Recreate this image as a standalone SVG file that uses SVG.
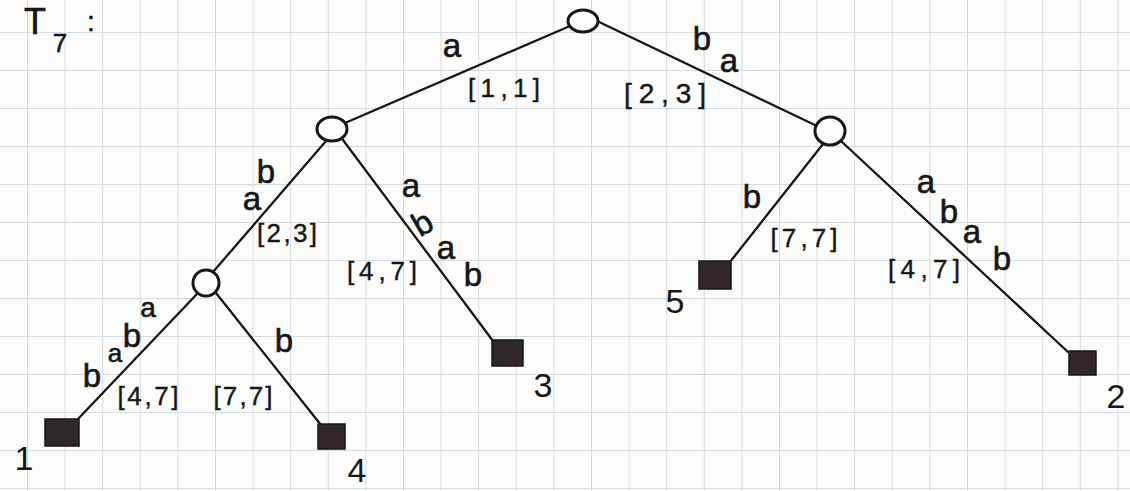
<svg xmlns="http://www.w3.org/2000/svg" width="1130" height="491" viewBox="0 0 1130 491">
  <defs>
    <pattern id="grid" patternUnits="userSpaceOnUse" x="27" y="32" width="37.6" height="38">
      <path d="M0.5 0 V38 M0 0.5 H37.6" fill="none" stroke="#d3dbe2" stroke-width="1"/>
    </pattern>
    <style>
      .edge { stroke: #161616; stroke-width: 2.3; stroke-linecap: round; fill: none; }
      .inner { fill: #fdfdfb; stroke: #161616; stroke-width: 3; }
      .leaf { fill: #2f2729; stroke: #1a1618; stroke-width: 1.5; }
      .lbl { font-family: "Liberation Sans", "DejaVu Sans", sans-serif; font-size: 33px; fill: #161616; stroke: #161616; stroke-width: 0.6; text-anchor: middle; }
      .rng { font-family: "Liberation Sans", "DejaVu Sans", sans-serif; font-size: 26px; fill: #161616; stroke: #161616; stroke-width: 0.4; text-anchor: middle; }
      .num { font-family: "Liberation Sans", "DejaVu Sans", sans-serif; font-size: 34px; fill: #161616; text-anchor: middle; }
    </style>
  </defs>

  <rect x="0" y="0" width="1130" height="491" fill="#fcfcfa"/>
  <rect x="0" y="0" width="1130" height="491" fill="url(#grid)"/>

  <!-- title -->
  <g id="title">
    <text x="35" y="34" class="lbl" style="font-size:36px">T</text>
    <text x="60" y="52" class="lbl" style="font-size:26px">7</text>
    <text x="91" y="31" class="lbl" style="font-size:28px">:</text>
  </g>

  <!-- connectors -->
  <g id="connectors">
    <line class="edge" x1="570" y1="26" x2="345" y2="123"/>
    <line class="edge" x1="597" y1="21" x2="817" y2="126"/>
    <line class="edge" x1="326" y1="141" x2="213" y2="272"/>
    <line class="edge" x1="343" y1="140" x2="493" y2="341"/>
    <line class="edge" x1="823" y1="144" x2="730" y2="262"/>
    <line class="edge" x1="842" y1="142" x2="1068" y2="352"/>
    <line class="edge" x1="197" y1="294" x2="77" y2="420"/>
    <line class="edge" x1="216" y1="293" x2="321" y2="425"/>

    <!-- edge labels -->
    <text class="lbl" x="452" y="57">a</text>
    <text class="rng" x="504" y="97" textLength="72" lengthAdjust="spacing">[1,1]</text>

    <text class="lbl" x="702" y="50">b</text>
    <text class="lbl" x="729" y="72">a</text>
    <text class="rng" x="665" y="103" textLength="82" lengthAdjust="spacing" style="font-size:28px">[2,3]</text>

    <text class="lbl" x="266" y="183">b</text>
    <text class="lbl" x="252" y="210">a</text>
    <text class="rng" x="287" y="242" textLength="60" lengthAdjust="spacing">[2,3]</text>

    <text class="lbl" x="411" y="197">a</text>
    <text class="lbl" x="424" y="234" transform="rotate(-30 424 226)">b</text>
    <text class="lbl" x="446" y="259">a</text>
    <text class="lbl" x="473" y="286">b</text>
    <text class="rng" x="382" y="280" textLength="70" lengthAdjust="spacing">[4,7]</text>

    <text class="lbl" x="92" y="387">b</text>
    <text class="lbl" x="115" y="362" style="font-size:26px">a</text>
    <text class="lbl" x="132" y="347">b</text>
    <text class="lbl" x="148" y="317" style="font-size:28px">a</text>
    <text class="rng" x="148" y="405" textLength="61" lengthAdjust="spacing">[4,7]</text>

    <text class="lbl" x="284" y="352">b</text>
    <text class="rng" x="243" y="405" textLength="59" lengthAdjust="spacing">[7,7]</text>

    <text class="lbl" x="752" y="208">b</text>
    <text class="rng" x="804" y="247" textLength="67" lengthAdjust="spacing">[7,7]</text>

    <text class="lbl" x="926" y="193">a</text>
    <text class="lbl" x="949" y="223">b</text>
    <text class="lbl" x="972" y="243">a</text>
    <text class="lbl" x="1002" y="270">b</text>
    <text class="rng" x="924" y="278" textLength="72" lengthAdjust="spacing">[4,7]</text>
  </g>

  <!-- internal nodes -->
  <g id="root"><ellipse class="inner" cx="583" cy="21" rx="15" ry="11"/></g>
  <g id="node-a"><ellipse class="inner" cx="332" cy="129" rx="15" ry="12"/></g>
  <g id="node-ba"><ellipse class="inner" cx="830" cy="131" rx="15" ry="14"/></g>
  <g id="node-aba"><ellipse class="inner" cx="206" cy="283" rx="13" ry="13"/></g>

  <!-- leaves -->
  <g id="leaf-1">
    <rect class="leaf" x="45" y="419" width="34" height="27"/>
    <text class="num" x="24" y="470">1</text>
  </g>
  <g id="leaf-4">
    <rect class="leaf" x="318" y="424" width="27" height="25"/>
    <text class="num" x="357" y="482">4</text>
  </g>
  <g id="leaf-3">
    <rect class="leaf" x="492" y="340" width="31" height="26"/>
    <text class="num" x="543" y="397">3</text>
  </g>
  <g id="leaf-5">
    <rect class="leaf" x="699" y="261" width="32" height="28"/>
    <text class="num" x="675" y="313">5</text>
  </g>
  <g id="leaf-2">
    <rect class="leaf" x="1069" y="351" width="27" height="24"/>
    <text class="num" x="1116" y="408">2</text>
  </g>
</svg>
